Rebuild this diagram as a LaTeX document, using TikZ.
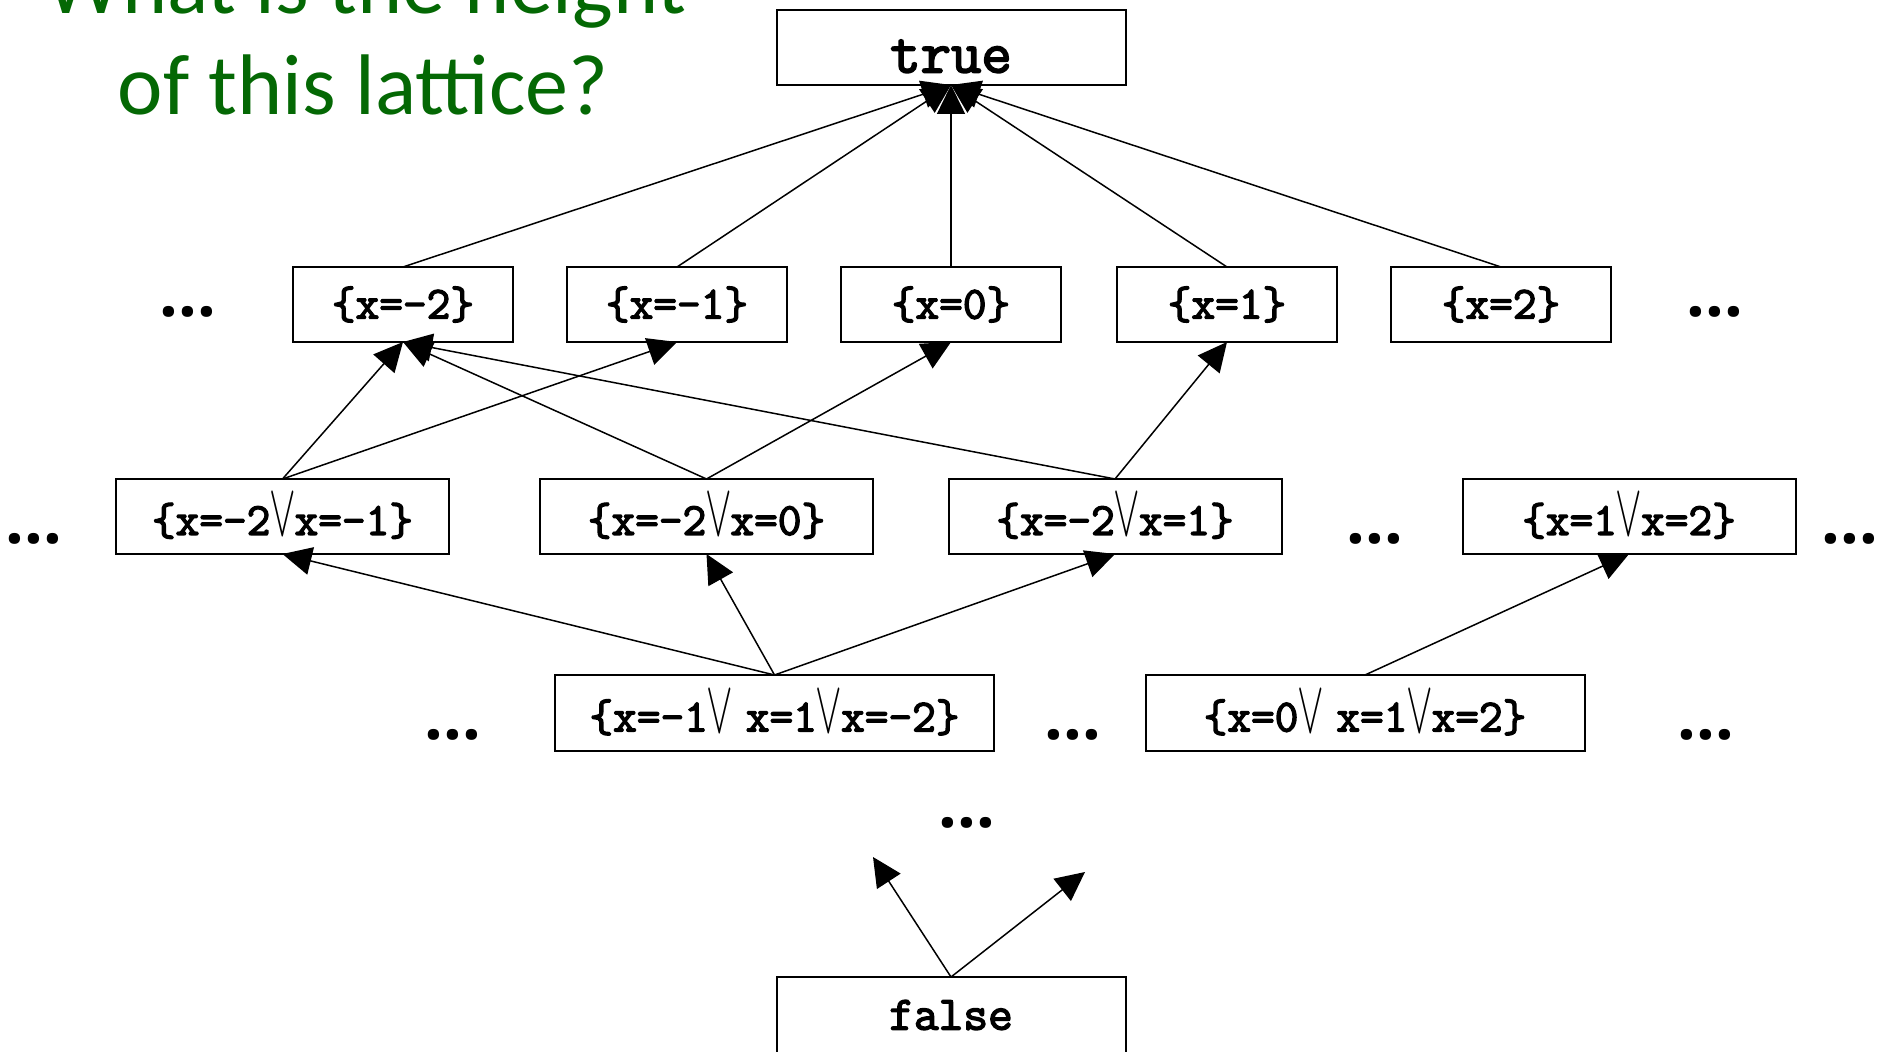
\documentclass[tikz,border=0pt]{standalone}
\usepackage{fontspec}
\usepackage{graphicx}
\usetikzlibrary{arrows.meta}
\newfontfamily\titlef{Carlito}
\newfontfamily\dotf{Open Sans}
\newfontfamily\ttheavy{Latin Modern Mono}[FakeBold=3]
\definecolor{titlegreen}{RGB}{4,104,4}
\newcommand\orsym{\makebox[0.525em]{\raisebox{-0.02em}{\scalebox{0.8}[1.5]{\normalfont$\vee$}}}}
\newcommand\setlab[1]{{\ttheavy\fontsize{23}{28}\selectfont #1}}
\tikzset{
  box/.style={draw, line width=1pt, inner sep=0pt, outer sep=0pt, minimum height=37.5pt},
  r1/.style={box, minimum width=110pt},
  r2/.style={box, minimum width=166.5pt},
  r3/.style={box, minimum width=219.5pt, minimum height=38pt},
  tb/.style={box, minimum width=174.5pt},
  edge/.style={line width=0.75pt, -{Triangle[length=14.5pt,width=14pt]}},
  dotsn/.style={inner sep=0pt, font=\dotf\bfseries\fontsize{33}{40}\selectfont},
  titlet/.style={anchor=base, text=titlegreen, inner sep=0pt, font=\titlef\fontsize{43}{50}\selectfont}
}
\begin{document}
\begin{tikzpicture}[x=0.5pt,y=-0.5pt]
\useasboundingbox (0,0) rectangle (1883,1052);
% title
\node[titlet] (t1) at (366,14) {What is the height};
\node[titlet] (t2) at (363,115) {of this lattice?};
% top and bottom
\node[tb, text height=25pt, text depth=0pt, font=\ttheavy\fontsize{29.5}{34}\selectfont] (top) at (951,47.5) {true};
\node[tb, minimum height=38pt, font=\ttheavy\fontsize{24}{28}\selectfont] (bot) at (951,1015) {false};
% row 1
\node[r1] (m2) at (403,304.5) {\setlab{\{x=-2\}}};
\node[r1] (m1) at (677,304.5) {\setlab{\{x=-1\}}};
\node[r1] (z0) at (951,304.5) {\setlab{\{x=0\}}};
\node[r1] (p1) at (1227,304.5) {\setlab{\{x=1\}}};
\node[r1] (p2) at (1501,304.5) {\setlab{\{x=2\}}};
% row 2
\node[r2] (a) at (282.5,516.5) {\setlab{\{x=-2\orsym x=-1\}}};
\node[r2] (b) at (706.5,516.5) {\setlab{\{x=-2\orsym x=0\}}};
\node[r2] (c) at (1115,516.5) {\setlab{\{x=-2\orsym x=1\}}};
\node[r2] (d) at (1629,516.5) {\setlab{\{x=1\orsym x=2\}}};
% row 3
\node[r3] (e) at (774.5,713) {\setlab{\{x=-1\orsym{}\hspace{0.3em}x=1\orsym x=-2\}}};
\node[r3] (f) at (1365,713) {\setlab{\{x=0\orsym{}\hspace{0.3em}x=1\orsym x=2\}}};
% dots
\node[dotsn] (d1l) at (188,312) {...};
\node[dotsn] (d1r) at (1715,312) {...};
\node[dotsn] (d2l) at (34,539) {...};
\node[dotsn] (d2m) at (1375,539) {...};
\node[dotsn] (d2r) at (1850,539) {...};
\node[dotsn] (d3l) at (453,735) {...};
\node[dotsn] (d3m) at (1073,735) {...};
\node[dotsn] (d3r) at (1706,735) {...};
\node[dotsn] (d4) at (967,823) {...};
% free ends
\coordinate (fl) at (873,857);
\coordinate (fr) at (1085,872);
% edges to top
\foreach \n in {m2,m1,z0,p1,p2} \draw[edge] (\n.north) -- (top.south);
% row 2 -> row 1
\draw[edge] (a.north) -- (m2.south);
\draw[edge] (a.north) -- (m1.south);
\draw[edge] (b.north) -- (m2.south);
\draw[edge] (b.north) -- (z0.south);
\draw[edge] (c.north) -- (m2.south);
\draw[edge] (c.north) -- (p1.south);
% row 3 -> row 2
\draw[edge] (e.north) -- (a.south);
\draw[edge] (e.north) -- (b.south);
\draw[edge] (e.north) -- (c.south);
\draw[edge] (f.north) -- (d.south);
% bottom
\draw[edge] (bot.north) -- (fl);
\draw[edge] (bot.north) -- (fr);
\end{tikzpicture}
\end{document}
